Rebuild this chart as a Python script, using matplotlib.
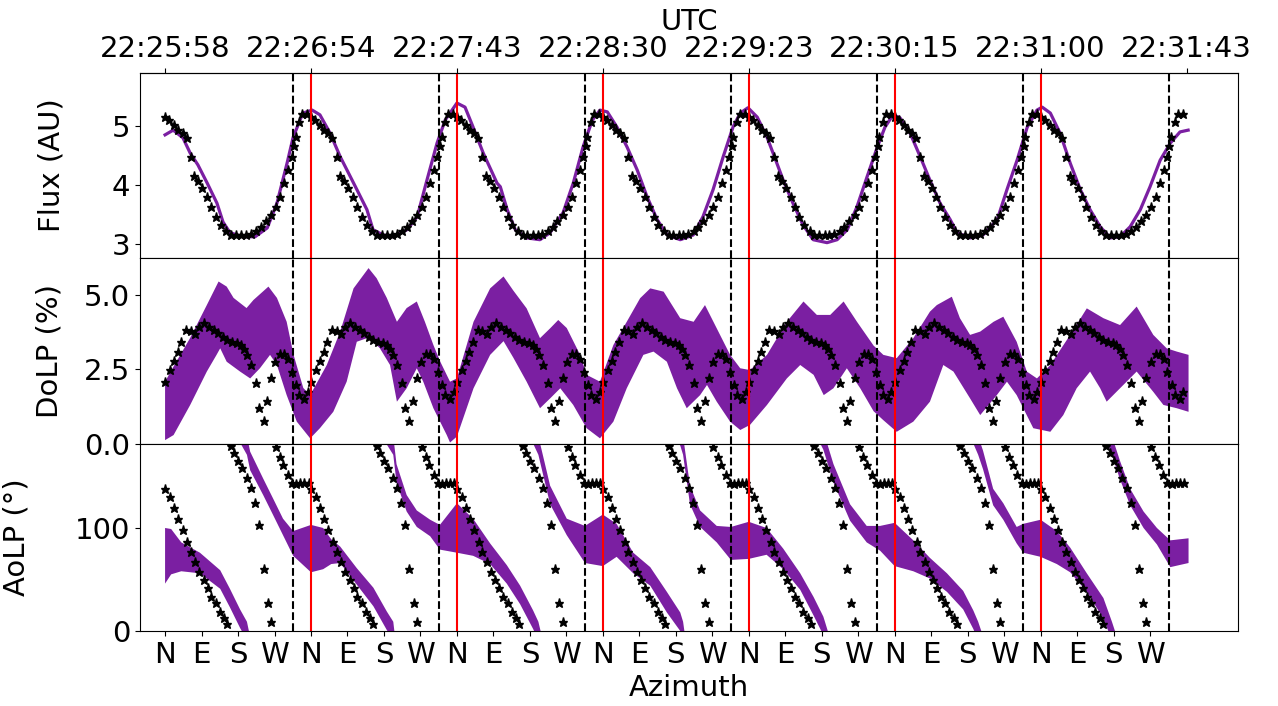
import numpy as np
import matplotlib
matplotlib.use("Agg")
import matplotlib.pyplot as plt

plt.rcParams["font.size"] = 21

purple = "#7b1fa2"
n_turns = 7

# model values (stars), one turn of azimuth, the same for every turn
flux_star_az = [0, 10, 22, 33, 43, 53, 63, 72, 81, 92, 103, 113, 125, 137, 150, 162, 174, 187, 199, 211,
                224, 236, 248, 261, 273, 284, 294, 304, 312, 318, 322, 331, 339, 351]
flux_star = [5.16, 5.10, 5.02, 4.94, 4.88, 4.79, 4.48, 4.15, 4.06, 3.94, 3.80, 3.63, 3.46, 3.32, 3.21, 3.15, 3.15,
             3.15, 3.15, 3.17, 3.21, 3.29, 3.38, 3.49, 3.63, 3.80, 4.03, 4.25, 4.48, 4.66, 4.82, 5.07, 5.21, 5.21]

dolp_star_az = [0, 12, 22, 31, 40, 51, 63, 74, 84, 96, 109, 121, 131, 143, 154, 166, 178, 187, 195, 203,
                212, 224, 232, 243, 251, 261, 272, 284, 294, 304, 313, 323, 331, 343, 352]
dolp_star = [2.09, 2.48, 2.78, 3.10, 3.41, 3.83, 3.79, 3.68, 3.94, 4.05, 3.94, 3.83, 3.71, 3.60, 3.49, 3.43, 3.38,
             3.32, 3.19, 2.99, 2.65, 2.04, 1.20, 0.78, 1.45, 2.20, 2.74, 3.02, 3.02, 2.84, 2.41, 1.98, 1.64, 1.51, 1.75]

aolp_star_az = [0, 12, 22, 33, 43, 54, 63, 74, 84, 95, 105, 114, 125, 135, 146, 154, 162, 170, 181, 191,
                202, 212, 222, 232, 243, 253, 261, 273, 283, 292, 303, 313, 323, 333, 343, 354]
aolp_star = [137.5, 129.8, 119.7, 108.7, 98, 86.7, 77, 67.3, 57.6, 49.5, 41.4, 33.3, 26.9, 18.8, 12.3, 6.5,
             179.6, 172.5, 165.4, 157.9, 148.2, 138.5, 124, 102.9, 59.9, 26.9, 9.1, 179, 169.3, 161.2, 151.5,
             144, 142.7, 143.4, 143.4, 143.4]

# measured flux
flux_az = [0, 20, 44, 62, 81, 104, 128, 143, 160, 192, 222, 252, 276, 301, 316, 340, 363, 382, 407, 432,
           449, 474, 498, 513, 538, 563, 597, 622, 646, 671, 691, 720, 740, 760, 785, 819, 827, 844, 864, 893,
           925, 950, 982, 1007, 1031, 1054, 1073, 1091, 1115, 1140, 1165, 1189, 1214, 1239, 1271, 1303, 1327,
           1352, 1377, 1401, 1419, 1438, 1461, 1485, 1500, 1525, 1549, 1574, 1599, 1633, 1658, 1683, 1707,
           1732, 1757, 1776, 1796, 1813, 1838, 1863, 1887, 1912, 1937, 1954, 1986, 2018, 2053, 2077, 2102,
           2127, 2151, 2164, 2184, 2208, 2233, 2258, 2282, 2307, 2332, 2356, 2381, 2406, 2430, 2455, 2480,
           2504, 2524]
flux = [4.85, 4.93, 4.80, 4.54, 4.34, 4.03, 3.69, 3.37, 3.19, 3.12, 3.12, 3.27, 3.69, 4.37, 4.81, 5.22, 5.27,
        5.19, 4.88, 4.48, 4.25, 3.91, 3.58, 3.24, 3.15, 3.12, 3.24, 3.46, 4.08, 4.71, 5.10, 5.39, 5.32, 4.98,
        4.54, 4.03, 3.97, 3.58, 3.24, 3.10, 3.07, 3.19, 3.53, 4.03, 4.64, 5.10, 5.27, 5.24, 4.98, 4.64, 4.25,
        3.80, 3.41, 3.15, 3.07, 3.15, 3.46, 3.92, 4.48, 4.98, 5.22, 5.31, 5.15, 4.81, 4.54, 4.08, 3.69, 3.32,
        3.07, 3.02, 3.07, 3.24, 3.63, 4.14, 4.64, 4.98, 5.19, 5.14, 4.88, 4.48, 4.08, 3.69, 3.41, 3.19, 3.10,
        3.15, 3.41, 3.92, 4.42, 4.98, 5.27, 5.32, 5.22, 4.88, 4.37, 3.92, 3.58, 3.29, 3.10, 3.12, 3.29, 3.58,
        3.97, 4.42, 4.71, 4.90, 4.93]

# measured DoLP: upper and lower edge of the noisy band
dolp_hi_az = [0, 21, 62, 103, 132, 152, 169, 201, 218, 255, 276, 300, 317, 341, 358, 399, 432, 465, 502, 522,
              547, 572, 596, 621, 641, 662, 679, 703, 720, 761, 802, 835, 859, 892, 925, 950, 970, 991, 1024,
              1040, 1073, 1106, 1139, 1172, 1197, 1230, 1271, 1304, 1332, 1361, 1394, 1419, 1443, 1485, 1534,
              1575, 1608, 1641, 1674, 1707, 1748, 1772, 1805, 1846, 1887, 1904, 1941, 1961, 1986, 2011, 2044,
              2068, 2101, 2126, 2151, 2184, 2233, 2274, 2315, 2356, 2397, 2438, 2471, 2496, 2525]
dolp_hi = [2.09, 2.6, 3.56, 4.66, 5.45, 5.28, 4.90, 4.56, 4.83, 5.28, 4.90, 4.10, 2.99, 1.88, 1.64, 2.65, 3.77,
           5.22, 5.90, 5.56, 4.90, 4.10, 4.56, 4.78, 4.10, 3.32, 2.76, 2.09, 2.20, 4.10, 5.22, 5.62, 5.15, 4.55,
           3.55, 3.88, 4.16, 3.89, 2.99, 2.32, 2.09, 3.32, 4.10, 4.89, 5.22, 5.11, 4.22, 4.10, 4.66, 3.88, 2.99,
           2.54, 2.48, 2.99, 4.10, 4.78, 4.33, 4.33, 4.78, 4.10, 3.30, 2.99, 2.88, 3.55, 4.44, 4.66, 4.94, 4.22,
           3.66, 3.77, 4.10, 4.27, 3.43, 2.43, 2.20, 2.65, 3.66, 4.55, 4.22, 3.99, 4.61, 3.66, 3.21, 3.10, 2.99]
dolp_lo_az = [0, 21, 62, 103, 127, 136, 152, 185, 210, 234, 259, 276, 300, 325, 358, 382, 415, 448, 473, 498,
              514, 530, 555, 572, 596, 621, 637, 662, 695, 703, 720, 761, 802, 835, 859, 892, 925, 950, 975,
              1007, 1040, 1073, 1106, 1139, 1180, 1205, 1238, 1263, 1287, 1320, 1337, 1361, 1394, 1419, 1443,
              1485, 1534, 1567, 1600, 1625, 1649, 1682, 1715, 1748, 1772, 1805, 1846, 1887, 1920, 1945, 1986,
              2011, 2052, 2077, 2101, 2142, 2184, 2216, 2249, 2282, 2307, 2323, 2356, 2397, 2438, 2463, 2496, 2525]
dolp_lo = [0.13, 0.30, 1.31, 2.43, 2.99, 3.21, 2.76, 2.43, 2.20, 2.54, 2.99, 2.65, 1.64, 0.75, 0.19, 0.53, 1.08,
           2.09, 3.43, 3.55, 3.43, 3.21, 2.65, 1.42, 1.87, 2.54, 2.09, 1.20, 0.30, 0.05, 0.25, 1.87, 2.99, 3.45,
           2.90, 2.09, 1.20, 1.53, 1.87, 1.31, 0.53, 0.19, 0.75, 1.87, 2.99, 3.10, 2.76, 1.87, 1.20, 1.64, 1.98,
           1.42, 0.75, 0.47, 0.64, 1.31, 2.20, 2.65, 2.32, 1.64, 1.87, 2.54, 1.87, 1.10, 0.80, 0.41, 0.75, 1.42,
           2.65, 2.43, 1.53, 0.97, 1.64, 2.09, 1.64, 0.53, 0.41, 0.97, 1.87, 2.43, 1.87, 1.42, 1.87, 2.43, 1.75,
           1.31, 1.20, 1.08]

# measured AoLP: band centre (unwrapped angle) and half width
aolp_az = [0, 15, 40, 86, 136, 160, 185, 202, 210, 242, 266, 291, 316,
           360, 390, 410, 432, 473, 514, 547, 563, 571, 596, 621, 654, 678,
           720, 760, 802, 843, 876, 908, 921, 950, 991, 1036,
           1080, 1114, 1155, 1197, 1238, 1271, 1278, 1295, 1320, 1361, 1396,
           1440, 1484, 1525, 1567, 1600, 1624, 1628, 1649, 1690, 1731, 1764,
           1800, 1846, 1887, 1929, 1969, 1994, 2006, 2018, 2043, 2068, 2101, 2117,
           2160, 2200, 2233, 2274, 2315, 2336, 2356, 2381, 2414, 2447, 2480, 2525]
aolp_mid = [73, 77, 72, 66, 50, 32, 12, 0, -15, -40, -59, -79, -95,
            -100, -100, -103, -106, -127, -147, -170, -180, -207, -236, -251, -260, -269,
            -260, -269, -285, -305, -325, -349, -360, -408, -439, -456,
            -452, -452, -474, -487, -512, -531, -540, -588, -611, -626, -635,
            -632, -633, -650, -672, -696, -715, -720, -747, -785, -806, -810,
            -816, -827, -839, -853, -870, -889, -900, -914, -950, -964, -987, -990,
            -990, -999, -1011, -1033, -1058, -1080, -1104, -1130, -1152, -1168, -1185, -1182]
aolp_half = [27, 22, 14, 10, 9, 9, 9, 9, 9, 8, 8, 8, 12,
             23, 20, 12, 8, 8, 9, 9, 9, 9, 8, 8, 8, 12,
             24, 18, 10, 9, 9, 9, 9, 9, 8, 18,
             25, 16, 10, 9, 10, 9, 9, 9, 8, 8, 16,
             18, 13, 10, 8, 9, 9, 9, 9, 8, 8, 12,
             21, 15, 10, 9, 9, 9, 9, 9, 8, 8, 8, 14,
             18, 16, 12, 9, 10, 9, 9, 8, 8, 8, 13, 12]

utc_labels = ["22:25:58", "22:26:54", "22:27:43", "22:28:30", "22:29:23", "22:30:15", "22:31:00", "22:31:43"]
compass = ["N", "E", "S", "W"]
dashed_az = [316, 676, 1036, 1396, 1756, 2116, 2476]
red_az = [360, 720, 1080, 1440, 1800, 2160]


def tile(az):
    return np.concatenate([np.array(az) + 360 * k for k in range(n_turns)])


fig = plt.figure(figsize=(12.78, 7.06), dpi=100)
left, width = 0.1095, 0.8592
ax1 = fig.add_axes([left, 0.6346, width, 0.2620])
ax2 = fig.add_axes([left, 0.3711, width, 0.2635], sharex=ax1)
ax3 = fig.add_axes([left, 0.1062, width, 0.2649], sharex=ax1)

# flux
ax1.plot(flux_az, flux, color=purple, lw=2.3)
ax1.plot(tile(flux_star_az), flux_star * n_turns, "k*", ms=6.5, ls="none")
ax1.set_ylim(2.76, 5.9)
ax1.set_yticks([3, 4, 5])
ax1.set_ylabel("Flux (AU)")
ax1.yaxis.set_label_coords(-0.068, 0.5)

# DoLP
ax2.fill(np.r_[dolp_hi_az, dolp_lo_az[::-1]], np.r_[dolp_hi, dolp_lo[::-1]], color=purple, lw=0)
ax2.plot(tile(dolp_star_az), dolp_star * n_turns, "k*", ms=6.5, ls="none")
ax2.set_ylim(0, 6.24)
ax2.set_yticks([0, 2.5, 5.0])
ax2.set_yticklabels(["0.0", "2.5", "5.0"])
ax2.set_ylabel("DoLP (%)")
ax2.yaxis.set_label_coords(-0.07, 0.5)

# AoLP, angle wraps every 180 degrees
mid = np.array(aolp_mid, dtype=float)
half = np.array(aolp_half, dtype=float)
for m in range(8):
    ax3.fill_between(aolp_az, mid - half + 180 * m, mid + half + 180 * m, color=purple, lw=0)
ax3.plot(tile(aolp_star_az), aolp_star * n_turns, "k*", ms=6.5, ls="none")
ax3.set_ylim(0, 181.5)
ax3.set_yticks([0, 100])
ax3.set_ylabel("AoLP (°)")
ax3.yaxis.set_label_coords(-0.1, 0.5)

for ax in (ax1, ax2, ax3):
    for x in dashed_az:
        ax.axvline(x, color="k", ls="--", lw=1.5)
    for x in red_az:
        ax.axvline(x, color="red", lw=1.5)

for ax in (ax1, ax2):
    ax.tick_params(axis="x", bottom=False, labelbottom=False)

ax3.set_xlim(-62, 2647)
ax3.set_xticks(np.arange(0, 2431, 90))
ax3.set_xticklabels(compass * n_turns)
ax3.set_xlabel("Azimuth")

top = ax1.secondary_xaxis("top")
top.set_xticks(np.arange(0, 2521, 360))
top.set_xticklabels(utc_labels)
top.set_xlabel("UTC")

# the red lines run through the tick marks at the start of every turn
fig.canvas.draw()
for tick in top.xaxis.get_major_ticks()[1:7]:
    tick.tick1line.set_color("red")
    tick.tick2line.set_color("red")
for tick in ax3.xaxis.get_major_ticks()[4:25:4]:
    tick.tick1line.set_color("red")

fig.savefig("out.png", dpi=100)
